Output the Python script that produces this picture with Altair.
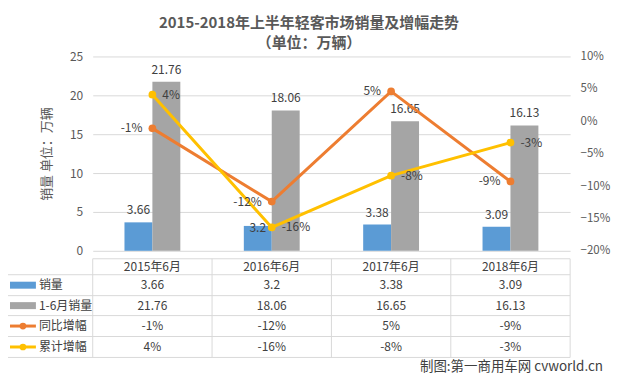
import altair as alt
import pandas as pd

months = ["2015年6月", "2016年6月", "2017年6月", "2018年6月"]
sales = [3.66, 3.2, 3.38, 3.09]
sales_h1 = [21.76, 18.06, 16.65, 16.13]
yoy = [-0.011, -0.124, 0.046, -0.093]
cum = [0.041, -0.164, -0.084, -0.033]

bar_series = ["销量", "1-6月销量"]
line_series = ["同比增幅", "累计增幅"]
colors = ["#5B9BD5", "#A5A5A5", "#ED7D31", "#FFC000"]

FONT = "Noto Sans CJK SC"
TXT = "#404040"
AX = "#595959"
LINE = "#D9D9D9"

W, H = 479, 195

bar_df = pd.DataFrame(
    [{"month": m, "series": bar_series[0], "value": v, "label": str(v)} for m, v in zip(months, sales)]
    + [{"month": m, "series": bar_series[1], "value": v, "label": str(v)} for m, v in zip(months, sales_h1)]
)
line_df = pd.DataFrame(
    [{"month": m, "series": line_series[0], "pct": v, "label": f"{round(v * 100)}%"} for m, v in zip(months, yoy)]
    + [{"month": m, "series": line_series[1], "pct": v, "label": f"{round(v * 100)}%"} for m, v in zip(months, cum)]
)

xscale = alt.Scale(domain=months, paddingInner=0.532, paddingOuter=0.266)
X = alt.X("month:N", scale=xscale, axis=None, sort=months)
XO = alt.XOffset("series:N", sort=bar_series, scale=alt.Scale(domain=bar_series, paddingInner=0, paddingOuter=0))
color = alt.Color("series:N", scale=alt.Scale(domain=bar_series + line_series, range=colors), legend=None)

ybar = alt.Y(
    "value:Q",
    scale=alt.Scale(domain=[0, 25]),
    axis=alt.Axis(
        orient="left", values=[0, 5, 10, 15, 20, 25], grid=True, gridColor=LINE, domain=False, ticks=False,
        labelPadding=10, labelColor=AX, labelFontSize=12, labelFont=FONT,
        title="销量 单位：万辆", titleFont=FONT, titleFontSize=13, titleFontWeight="normal",
        titleColor=AX, titlePadding=16,
    ),
)
ybar_noax = alt.Y("value:Q", scale=alt.Scale(domain=[0, 25]), axis=None)

yline = alt.Y(
    "pct:Q",
    scale=alt.Scale(domain=[-0.2, 0.1]),
    axis=alt.Axis(
        orient="right", values=[-0.2, -0.15, -0.1, -0.05, 0, 0.05, 0.1], format=".0%", grid=False,
        domain=False, ticks=False, labelPadding=10, labelColor=AX, labelFontSize=11.5, labelFont=FONT,
        title=None,
    ),
)
yline_noax = alt.Y("pct:Q", scale=alt.Scale(domain=[-0.2, 0.1]), axis=None)

bars = alt.Chart(bar_df).mark_bar().encode(x=X, xOffset=XO, y=ybar, color=color)

# the 2016 monthly label sits low, next to the cumulative point, as in the original
low_mask = (bar_df.month == months[1]) & (bar_df.series == bar_series[0])
bar_labels = alt.Chart(bar_df[~low_mask]).mark_text(dy=-12, font=FONT, fontSize=12, color=TXT).encode(
    x=X, xOffset=XO, y=ybar_noax, text="label:N"
)
bar_label_low = alt.Chart(bar_df[low_mask]).mark_text(dy=2, font=FONT, fontSize=12, color=TXT).encode(
    x=X, xOffset=XO, y=ybar_noax, text="label:N"
)

lines = alt.Chart(line_df).mark_line(strokeWidth=3).encode(x=X, y=yline, color=color, detail="series:N")
points = alt.Chart(line_df).mark_circle(size=60, opacity=1).encode(x=X, y=yline_noax, color=color)
yoy_labels = alt.Chart(line_df[line_df.series == line_series[0]]).mark_text(
    align="right", baseline="middle", dx=-10, font=FONT, fontSize=12, color=TXT
).encode(x=X, y=yline_noax, text="label:N")
cum_labels = alt.Chart(line_df[line_df.series == line_series[1]]).mark_text(
    align="left", baseline="middle", dx=10, font=FONT, fontSize=12, color=TXT
).encode(x=X, y=yline_noax, text="label:N")

# ---- data table below plot ----
row_y = [229.5, 250, 270.5, 291.5]
table_rows = []
for m, v in zip(months, sales):
    table_rows.append({"month": m, "row": 0, "text": str(v)})
for m, v in zip(months, sales_h1):
    table_rows.append({"month": m, "row": 1, "text": str(v)})
for m, v in zip(months, yoy):
    table_rows.append({"month": m, "row": 2, "text": f"{round(v * 100)}%"})
for m, v in zip(months, cum):
    table_rows.append({"month": m, "row": 3, "text": f"{round(v * 100)}%"})
table_df = pd.DataFrame(table_rows)

layers = [bars, bar_labels, bar_label_low, lines, points, yoy_labels, cum_labels]

header = alt.Chart(pd.DataFrame({"month": months})).mark_text(
    font=FONT, fontSize=12, color=TXT, baseline="middle"
).encode(x=X, y=alt.value(211), text="month:N")
layers.append(header)
for r in range(4):
    layers.append(
        alt.Chart(table_df[table_df.row == r]).mark_text(font=FONT, fontSize=12, color=TXT, baseline="middle")
        .encode(x=X, y=alt.value(row_y[r]), text="text:N")
    )

# grid lines of the table
hl = [(203, 0), (219, -86), (240, -86), (260, -86), (281, -86), (302, -86)]
for yy, x0 in hl:
    layers.append(
        alt.Chart(pd.DataFrame({"a": [0]})).mark_rule(color=LINE, strokeWidth=1)
        .encode(x=alt.value(x0), x2=alt.value(W), y=alt.value(yy))
    )
for i in range(5):
    layers.append(
        alt.Chart(pd.DataFrame({"a": [0]})).mark_rule(color=LINE, strokeWidth=1)
        .encode(x=alt.value(W * i / 4), y=alt.value(203), y2=alt.value(302))
    )
layers.append(
    alt.Chart(pd.DataFrame({"a": [0]})).mark_rule(color=LINE, strokeWidth=1)
    .encode(x=alt.value(-86), y=alt.value(219), y2=alt.value(302))
)

# legend keys inside the table
names = bar_series + line_series
for i, name in enumerate(names):
    yy = row_y[i]
    if i < 2:
        layers.append(
            alt.Chart(pd.DataFrame({"a": [0]})).mark_rect(color=colors[i])
            .encode(x=alt.value(-83), x2=alt.value(-57), y=alt.value(yy - 3.5), y2=alt.value(yy + 3.5))
        )
    else:
        layers.append(
            alt.Chart(pd.DataFrame({"a": [0]})).mark_rule(color=colors[i], strokeWidth=3)
            .encode(x=alt.value(-83), x2=alt.value(-57), y=alt.value(yy))
        )
        layers.append(
            alt.Chart(pd.DataFrame({"a": [0]})).mark_circle(color=colors[i], size=45, opacity=1)
            .encode(x=alt.value(-70), y=alt.value(yy))
        )
    layers.append(
        alt.Chart(pd.DataFrame({"t": [name]})).mark_text(
            align="left", baseline="middle", font=FONT, fontSize=12, color=TXT
        ).encode(x=alt.value(-54), y=alt.value(yy), text="t:N")
    )

# titles and footer
title_lines = ["2015-2018年上半年轻客市场销量及增幅走势", "（单位：万辆）"]
for t, yy in zip(title_lines, [-34, -13]):
    layers.append(
        alt.Chart(pd.DataFrame({"t": [t]})).mark_text(
            align="center", baseline="middle", font=FONT, fontSize=15, fontWeight="bold", color=AX
        ).encode(x=alt.value(217), y=alt.value(yy), text="t:N")
    )
layers.append(
    alt.Chart(pd.DataFrame({"t": ["制图:第一商用车网 cvworld.cn"]})).mark_text(
        align="right", baseline="middle", font=FONT, fontSize=13.5, color=TXT
    ).encode(x=alt.value(512), y=alt.value(312), text="t:N")
)

chart = (
    alt.layer(*layers)
    .resolve_scale(y="independent")
    .properties(
        width=W,
        height=H,
        autosize=alt.AutoSizeParams(type="none"),
        padding={"left": 85, "top": 48, "right": 42, "bottom": 124},
        background="white",
    )
    .configure_view(stroke=None)
)

chart.save("out.html", embed_options={"renderer": "svg", "actions": False})
